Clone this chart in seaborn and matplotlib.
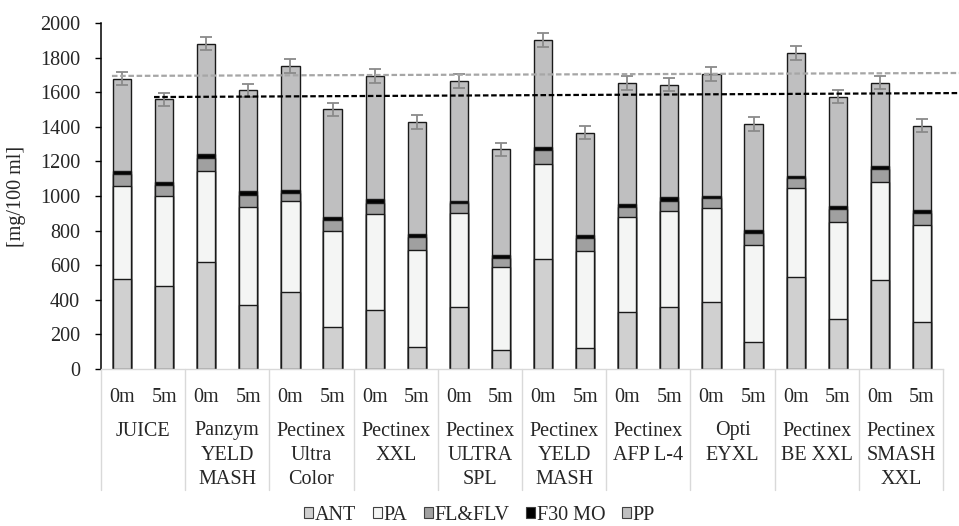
import numpy as np
import pandas as pd
import matplotlib
matplotlib.use("Agg")
import matplotlib.pyplot as plt
import seaborn as sns
from matplotlib.patches import Patch
import matplotlib.transforms as mtransforms

# ---- data ----
groups = [["JUICE"], ["Panzym", "YELD", "MASH"], ["Pectinex", "Ultra", "Color"],
          ["Pectinex", "XXL"], ["Pectinex", "ULTRA", "SPL"], ["Pectinex", "YELD", "MASH"],
          ["Pectinex", "AFP L-4"], ["Opti", "EYXL"], ["Pectinex", "BE XXL"],
          ["Pectinex", "SMASH", "XXL"]]
times = ["0m", "5m"]
series = ["ANT", "PA", "FL&FLV", "F30 MO", "PP"]
ANT = [522, 478, 617, 370, 445, 245, 343, 129, 360, 110, 638, 123, 331, 358, 387, 156, 532, 291, 514, 273]
PA = [534, 524, 526, 565, 528, 551, 555, 559, 542, 478, 549, 561, 549, 553, 544, 559, 514, 560, 567, 561]
FL = [71, 60, 75, 71, 46, 65, 63, 75, 58, 55, 77, 75, 58, 62, 56, 69, 56, 76, 73, 68]
F30 = [19, 17, 23, 21, 16, 18, 20, 16, 13, 14, 17, 13, 14, 21, 15, 18, 14, 13, 17, 17]
PP = [532, 480, 639, 584, 716, 622, 713, 649, 692, 613, 623, 594, 701, 649, 703, 614, 711, 634, 484, 488]
ERR = [39, 38, 37, 38, 39, 37, 42, 38, 39, 38, 40, 39, 39, 38, 39, 39, 38, 39, 37, 39]
# dashed reference lines (start value, end value)
grey_line = [1694, 1711]
black_line = [1572, 1595]

colors = {"ANT": "#d0d0d0", "PA": "#f4f5f4", "FL&FLV": "#a0a0a0", "F30 MO": "#000000", "PP": "#bfbfc0"}

sns.set_theme(style="white")
plt.rcParams["font.family"] = ["Liberation Serif", "DejaVu Serif"]
FS = 14.5

labels = [f"{'_'.join(g)} {t}" for g in groups for t in times]
vals = np.array([ANT, PA, FL, F30, PP], dtype=float)
cum = np.cumsum(vals, axis=0)

fig = plt.figure(figsize=(9.59, 5.26), dpi=100)
ax = fig.add_axes([101 / 959, 1 - 369 / 526, (943 - 101) / 959, (369 - 23) / 526])

for k in range(len(series) - 1, -1, -1):
    df = pd.DataFrame({"pos": labels, "val": cum[k]})
    sns.barplot(data=df, x="pos", y="val", order=labels, color=colors[series[k]],
                saturation=1, width=0.43, edgecolor="#1a1a1a", linewidth=1.0,
                errorbar=None, ax=ax, zorder=2)

x = np.arange(len(labels))
total = cum[-1]
ax.errorbar(x, total, yerr=ERR, fmt="none", ecolor="#8a8a8a", elinewidth=1.3,
            capsize=4, capthick=1.3, zorder=4)

xe = 19.9
ax.plot([-0.24, xe], grey_line, color="#a6a6a6", lw=1.6, ls=(0, (2.5, 1.2)), zorder=5, clip_on=False)
ax.plot([0.76, xe], black_line, color="#000000", lw=1.6, ls=(0, (2.5, 1.2)), zorder=5, clip_on=False)

ax.set_xlim(-0.5, 19.5)
ax.set_ylim(0, 2000)
ax.set_yticks(np.arange(0, 2001, 200))
ax.tick_params(axis="y", length=4, width=1, color="black", pad=11, labelsize=FS, left=True)
ax.set_xticks(x)
ax.set_xticklabels(times * len(groups), fontsize=FS)
ax.tick_params(axis="x", length=0, pad=13.5)
ax.set_xlabel("")
ax.set_ylabel("[mg/100 ml]", fontsize=FS, labelpad=10)

for s in ["top", "right"]:
    ax.spines[s].set_visible(False)
ax.spines["left"].set_color("black")
ax.spines["left"].set_linewidth(1.1)
ax.spines["bottom"].set_color("#d9d9d9")
ax.spines["bottom"].set_linewidth(1.0)

trans = mtransforms.blended_transform_factory(ax.transData, ax.transAxes)
for k in range(len(groups) + 1):
    xs = -0.5 + 2 * k
    ax.plot([xs, xs], [0, -121 / 346], color="#d9d9d9", lw=1.0, transform=trans, clip_on=False)

line_y = [431, 455, 479]
for i, g in enumerate(groups):
    for j, line in enumerate(g):
        ax.text(2 * i + 0.5, -(line_y[j] - 369) / 346, line, transform=trans,
                ha="center", va="center", fontsize=FS)

handles = [Patch(facecolor=colors[s], edgecolor="#404040", linewidth=0.8) for s in series]
fig.legend(handles, series, loc="center", bbox_to_anchor=(0.5, 1 - 515 / 526), ncol=5,
           frameon=False, fontsize=FS, handlelength=0.45, handleheight=0.45,
           handletextpad=0.1, columnspacing=0.8, borderaxespad=0)

fig.savefig("out.png", dpi=100)
